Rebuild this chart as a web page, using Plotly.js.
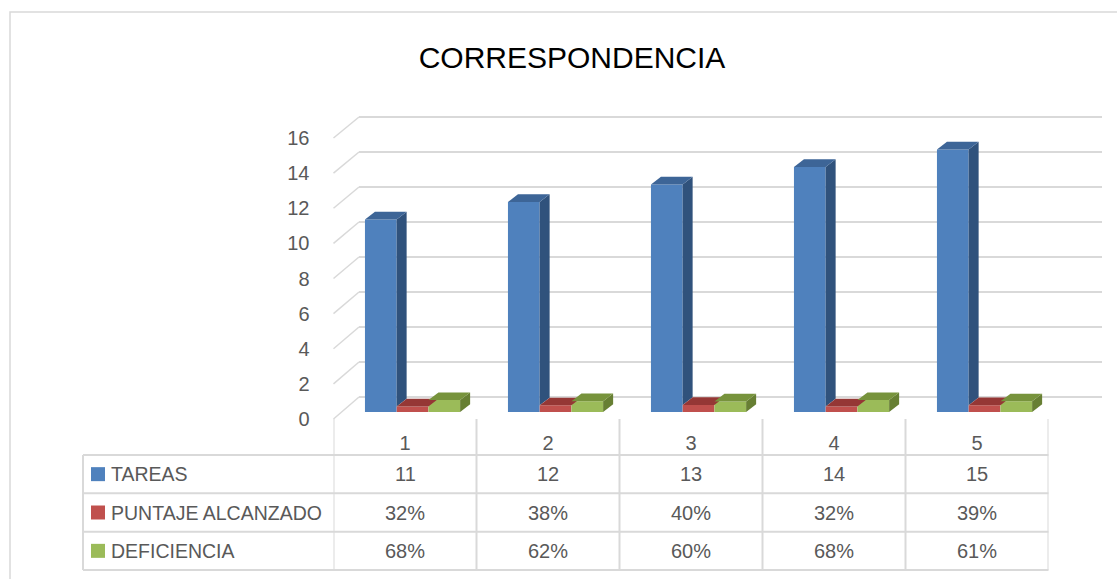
<!DOCTYPE html>
<html>
<head>
<meta charset="utf-8">
<script src="https://cdn.plot.ly/plotly-3.0.1.min.js"></script>
<style>
  html, body { margin: 0; padding: 0; background: #fff; }
  #chart { width: 1117px; height: 579px; }
</style>
</head>
<body>
<div id="chart"></div>
<script>
// Data
const categories = ['1', '2', '3', '4', '5'];
const seriesNames = ['TAREAS', 'PUNTAJE ALCANZADO', 'DEFICIENCIA'];
const tareas = [11, 12, 13, 14, 15];
const puntaje = [0.32, 0.38, 0.40, 0.32, 0.39];
const deficiencia = [0.68, 0.62, 0.60, 0.68, 0.61];
const yTicks = [0, 2, 4, 6, 8, 10, 12, 14, 16];
const chartTitle = 'CORRESPONDENCIA';

const pct = v => Math.round(v * 100) + '%';
const seriesValues = [tareas, puntaje, deficiencia];
const seriesLabels = [tareas.map(String), puntaje.map(pct), deficiencia.map(pct)];

// Styles
const frontColors = ['#4f81bd', '#c0504d', '#9bbb59'];
const topColors = ['#3d6597', '#953735', '#77933c'];
const sideColors = ['#30527c', '#86302e', '#677f33'];
const lineGray = '#d9d9d9';
const textGray = '#595959';
const fontFamily = 'Liberation Sans, Arial, sans-serif';

// Geometry in page pixels
const W = 1117, H = 579;
const px = x => x / W;
const py = y => 1 - y / H;
const slot = 143;
const frontLeft = 333.5;           // front edge of the floor
const frontZero = 419, frontStep = 17.56;
const backLeft = 359, backRight = 1102, backZero = 397, backTop = 115, step = 17.5;
const floorY = 412;                // where the columns stand
const cat0 = frontLeft + slot / 2; // pixel of category 0 centre
const barW = 0.2215;
const barOffsets = [-0.28, -0.058, 0.164];
const depthX = 10 / slot, depthY = 7.7 / step;
const baseVal = -(floorY - backZero) / step;

const xs = categories.map((c, i) => i);

// Column traces (front faces)
const traces = seriesValues.map((vals, s) => ({
    type: 'bar',
    x: xs,
    y: vals,
    base: baseVal,
    width: barW,
    offset: barOffsets[s],
    name: seriesNames[s],
    marker: { color: frontColors[s], line: { width: 0 } },
    hoverinfo: 'skip',
    showlegend: false,
    xaxis: 'x',
    yaxis: 'y'
}));

const shapes = [];

// outer chart border
shapes.push({
    type: 'rect', xref: 'paper', yref: 'paper',
    x0: px(10), x1: 1.02, y0: py(12), y1: -0.02,
    line: { color: lineGray, width: 1.5 }, layer: 'below'
});

// side wall diagonals
yTicks.forEach(v => {
    shapes.push({
        type: 'line', xref: 'paper', yref: 'paper',
        x0: px(frontLeft), y0: py(frontZero - frontStep * v),
        x1: px(backLeft), y1: py(backZero - step * v),
        line: { color: lineGray, width: 1.5 }, layer: 'below'
    });
});

// 3D top and side faces of the columns
xs.forEach(i => {
    seriesValues.forEach((vals, s) => {
        const v = vals[i];
        const L = i + barOffsets[s], R = L + barW;
        const top = baseVal + v;
        const next = s < seriesValues.length - 1 ? seriesValues[s + 1][i] : 0;
        if (next < v) {
            const b = baseVal + next;
            shapes.push({
                type: 'path', xref: 'x', yref: 'y',
                path: `M${R},${b} L${R + depthX},${b + depthY} L${R + depthX},${top + depthY} L${R},${top} Z`,
                fillcolor: sideColors[s], line: { width: 0 }
            });
        }
        shapes.push({
            type: 'path', xref: 'x', yref: 'y',
            path: `M${L},${top} L${L + depthX},${top + depthY} L${R + depthX},${top + depthY} L${R},${top} Z`,
            fillcolor: topColors[s], line: { width: 0 }
        });
    });
});

// data table
const tableLeft = 83;
const rowLines = [455, 493.3, 531.7, 570];
const tableTop = 419;
const tableRight = frontLeft + slot * categories.length;
rowLines.forEach(y => {
    shapes.push({
        type: 'line', xref: 'paper', yref: 'paper',
        x0: px(tableLeft), x1: px(tableRight), y0: py(y), y1: py(y),
        line: { color: lineGray, width: 2 }
    });
});
shapes.push({
    type: 'line', xref: 'paper', yref: 'paper',
    x0: px(tableLeft), x1: px(tableLeft), y0: py(rowLines[0]), y1: py(rowLines[3]),
    line: { color: lineGray, width: 2 }
});
for (let k = 0; k <= categories.length; k++) {
    shapes.push({
        type: 'line', xref: 'x2', yref: 'paper',
        x0: k - 0.5, x1: k - 0.5, y0: py(tableTop), y1: py(rowLines[3]),
        line: { color: lineGray, width: 2 }
    });
}

const annotations = [];
seriesNames.forEach((name, s) => {
    const yc = (rowLines[s] + rowLines[s + 1]) / 2;
    shapes.push({
        type: 'rect', xref: 'paper', yref: 'paper',
        x0: px(91), x1: px(105), y0: py(yc - 7), y1: py(yc + 7),
        fillcolor: frontColors[s], line: { width: 0 }
    });
    annotations.push({
        xref: 'paper', yref: 'paper', x: px(109), y: py(yc),
        xanchor: 'left', yanchor: 'middle', showarrow: false,
        text: name, font: { family: fontFamily, size: 19.5, color: textGray }
    });
    xs.forEach(i => {
        annotations.push({
            xref: 'x2', yref: 'paper', x: i, y: py(yc),
            xanchor: 'center', yanchor: 'middle', showarrow: false,
            text: seriesLabels[s][i], font: { family: fontFamily, size: 20, color: textGray }
        });
    });
});

const layout = {
    width: W, height: 579,
    margin: { l: 0, r: 0, t: 0, b: 0 },
    paper_bgcolor: '#fff', plot_bgcolor: 'rgba(0,0,0,0)',
    barmode: 'overlay',
    font: { family: fontFamily, color: textGray },
    title: {
        text: chartTitle, xref: 'paper', x: px(572), y: py(57),
        xanchor: 'center', yanchor: 'middle',
        font: { family: fontFamily, size: 30, color: '#000' }
    },
    // back wall + columns
    xaxis: {
        domain: [px(backLeft), px(backRight)],
        range: [(backLeft - cat0) / slot, (backRight - cat0) / slot],
        visible: false, fixedrange: true
    },
    yaxis: {
        domain: [py(floorY), py(backTop)],
        range: [baseVal, (backZero - backTop) / step],
        tickvals: yTicks, showticklabels: false, ticks: '',
        showgrid: true, gridcolor: lineGray, gridwidth: 1.5,
        zeroline: false, showline: false, fixedrange: true
    },
    // front plane: axis labels
    xaxis2: {
        domain: [px(frontLeft), px(tableRight)],
        range: [-0.5, categories.length - 0.5],
        anchor: 'y2',
        tickvals: xs, ticktext: categories,
        showgrid: false, zeroline: false, showline: false, ticks: '',
        ticklabelstandoff: 10,
        tickfont: { family: fontFamily, size: 20, color: textGray }
    },
    yaxis2: {
        domain: [py(frontZero), py(frontZero - frontStep * 16)],
        range: [0, 16],
        anchor: 'x2',
        tickvals: yTicks,
        showgrid: false, zeroline: false, showline: false, ticks: '',
        ticklabelstandoff: 23,
        tickfont: { family: fontFamily, size: 20, color: textGray }
    },
    shapes: shapes,
    annotations: annotations
};

Plotly.newPlot('chart', traces, layout, { staticPlot: true, displayModeBar: false });
</script>
</body>
</html>
